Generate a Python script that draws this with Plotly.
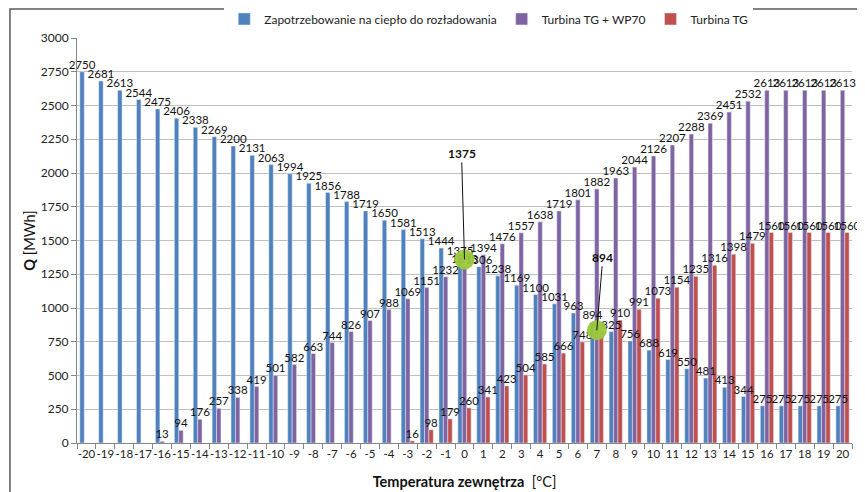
import plotly.graph_objects as go

TEMPERATURES = [str(t) for t in range(-20, 21)]

ZAPOTRZEBOWANIE = [
    2750, 2681, 2613, 2544, 2475, 2406, 2338, 2269, 2200, 2131, 2063,
    1994, 1925, 1856, 1788, 1719, 1650, 1581, 1513, 1444, 1375,
    1306, 1238, 1169, 1100, 1031, 963, 894, 825, 756, 688,
    619, 550, 481, 413, 344, 275, 275, 275, 275, 275
]
TURBINA_TG_WP70 = [
    0, 0, 0, 0, 13, 94, 176, 257, 338, 419, 501,
    582, 663, 744, 826, 907, 988, 1069, 1151, 1232, 1313,
    1394, 1476, 1557, 1638, 1719, 1801, 1882, 1963, 2044, 2126,
    2207, 2288, 2369, 2451, 2532, 2613, 2613, 2613, 2613, 2613
]
TURBINA_TG = [
    0, 0, 0, 0, 0, 0, 0, 0, 0, 0, 0,
    0, 0, 0, 0, 0, 0, 16, 98, 179, 260,
    341, 423, 504, 585, 666, 748, 829, 910, 991, 1073,
    1154, 1235, 1316, 1398, 1479, 1560, 1560, 1560, 1560, 1560
]

# punkty przeciecia zaznaczone na wykresie (indeks kategorii, wartosc)
MARK_IDX = [20, 27]
MARK_Y = [1360, 835]
MARK_LABELS = ['1375', '894']

FONT = 'Lato'

SERIES = [
    ('Zapotrzebowanie na ciepło do rozładowania', ZAPOTRZEBOWANIE, '#4F81BD', ()),
    ('Turbina TG + WP70', TURBINA_TG_WP70, '#8064A2', ()),
    ('Turbina TG', TURBINA_TG, '#C0504D', (27,)),
]

fig = go.Figure()

# slupki
for name, values, color, hide in SERIES:
    fig.add_trace(go.Bar(
        x=TEMPERATURES, y=values, name=name, marker_color=color
    ))

# etykiety danych nad wszystkimi slupkami (osobne trace, zeby nie byly zaslaniane)
for name, values, color, hide in SERIES:
    text = ['' if v == 0 or i in hide else str(v) for i, v in enumerate(values)]
    fig.add_trace(go.Scatter(
        x=TEMPERATURES, y=values, mode='text', text=text,
        textposition='top center',
        textfont=dict(family=FONT, size=11.5, color='#111'),
        showlegend=False, hoverinfo='skip', cliponaxis=False
    ))

shapes = [dict(
    type='rect', xref='paper', yref='paper',
    x0=-0.0865, x1=1.05, y0=-0.2, y1=1.0716,
    line=dict(color='#595959', width=1.5)
)]
for idx, y in zip(MARK_IDX, MARK_Y):
    shapes.append(dict(
        type='circle', xref='x', yref='y',
        xsizemode='pixel', ysizemode='pixel',
        xanchor=idx, yanchor=y, x0=-10, x1=10, y0=-10, y1=10,
        fillcolor='#9BC83C', opacity=0.95, line=dict(width=0)
    ))

for idx, y, t, ax, ay in zip(MARK_IDX, MARK_Y, MARK_LABELS, [-3, 6], [-106, -73]):
    fig.add_annotation(
        x=idx, y=y, text='<b>' + t + '</b>',
        showarrow=True, arrowhead=0, arrowwidth=1, arrowcolor='#111',
        ax=ax, ay=ay, font=dict(family=FONT, size=12, color='#111'),
        standoff=0
    )

# strona html ma margines 8px, stad przesuniete marginesy
fig.update_layout(
    width=865, height=492,
    margin=dict(l=69, r=21, t=30, b=57, autoexpand=False),
    paper_bgcolor='white', plot_bgcolor='white',
    font=dict(family=FONT, size=12, color='#222'),
    barmode='group', bargap=0.3, bargroupgap=0,
    scattermode='group', scattergap=0.3,
    legend=dict(
        orientation='h', x=0.19, y=1.047, xanchor='left', yanchor='middle',
        font=dict(family=FONT, size=12, color='#222'),
        itemwidth=30, tracegroupgap=0
    ),
    shapes=shapes
)

fig.update_xaxes(
    type='category', tickson='boundaries', tickangle=0, automargin=False,
    ticks='outside', ticklen=5, tickcolor='#868686',
    showline=True, linecolor='#868686', showgrid=False,
    tickfont=dict(family=FONT, size=11.5, color='#222'),
    title=dict(
        text='<b>Temperatura zewnętrza</b>  [°C]',
        font=dict(family=FONT, size=14.5, color='#111'), standoff=18
    )
)
fig.update_yaxes(
    range=[0, 3000], dtick=250, automargin=False,
    ticks='outside', ticklen=5, tickcolor='#868686',
    showline=True, linecolor='#868686',
    gridcolor='#BFBFBF', gridwidth=1, zeroline=False,
    tickfont=dict(family=FONT, size=12, color='#222'),
    title=dict(
        text='<b>Q</b> [MWh]',
        font=dict(family=FONT, size=14.5, color='#111'), standoff=1
    )
)

fig.write_html('out.html')
